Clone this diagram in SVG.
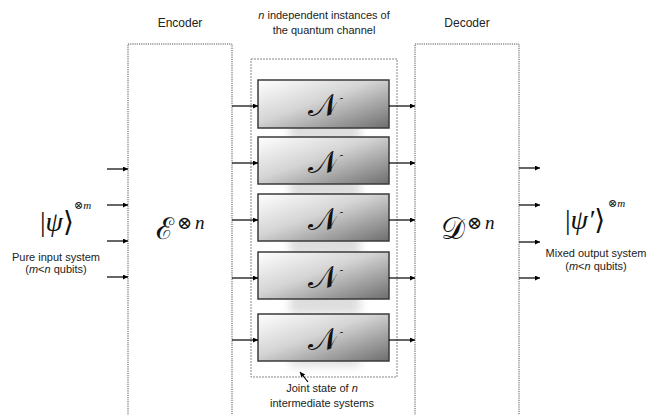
<svg xmlns="http://www.w3.org/2000/svg" width="659" height="415" viewBox="0 0 659 415">
<style>
.lbl{font-family:"Liberation Sans",Arial,sans-serif;font-size:11px;fill:#222;text-anchor:middle}
.hdr{font-family:"Liberation Sans",Arial,sans-serif;font-size:12px;fill:#222;text-anchor:middle}
.math{font-family:"Liberation Serif","DejaVu Serif",serif;fill:#111}
.scr{font-family:"DejaVu Serif","Liberation Serif",serif;fill:#111}
.box{fill:#fff;stroke:#555;stroke-width:1;stroke-dasharray:1.2,1}
.inner{fill:none;stroke:#888;stroke-width:1;stroke-dasharray:2,1}
.ch{stroke:#3a3a3a;stroke-width:1.5}
.ar{stroke:#000;stroke-width:1.2;fill:none;marker-end:url(#ah)}
</style>
<defs>
<marker id="ah" viewBox="0 0 10 10" refX="10" refY="5" markerWidth="5" markerHeight="5" orient="auto" markerUnits="userSpaceOnUse"><path d="M0,0L10,5L0,10z" fill="#000"/></marker>
<linearGradient id="g" x1="0" y1="0" x2="1" y2="1"><stop offset="0" stop-color="#ffffff"/><stop offset="0.45" stop-color="#d4d4d4"/><stop offset="1" stop-color="#6e6e6e"/></linearGradient>
<filter id="sh" x="-20%" y="-40%" width="140%" height="180%"><feGaussianBlur stdDeviation="5"/></filter>
</defs>
<rect width="659" height="415" fill="#fff"/>
<g id="encoder">
<rect class="box" x="128" y="44" width="104" height="380"/>
<text class="hdr" x="180" y="27">Encoder</text>
<text class="scr" x="156" y="239" font-size="30">ℰ</text>
<text class="math" x="177" y="229" font-size="18">⊗</text>
<text class="math" x="195" y="229" font-size="19" font-style="italic">n</text>
</g>
<g id="decoder">
<rect class="box" x="415" y="44" width="104" height="380"/>
<text class="hdr" x="467" y="27">Decoder</text>
<text class="scr" x="441" y="239" font-size="30">𝒟</text>
<text class="math" x="467" y="229" font-size="18">⊗</text>
<text class="math" x="485" y="229" font-size="19" font-style="italic">n</text>
</g>
<g id="channels">
<rect class="inner" x="251" y="59" width="146" height="318"/>
<text class="lbl" x="324" y="19"><tspan font-style="italic">n</tspan> independent instances of</text>
<text class="lbl" x="324" y="34">the quantum channel</text>
<g fill="#bbb" filter="url(#sh)" opacity="0.5">
<rect x="290" y="120" width="70" height="22"/>
<rect x="290" y="177" width="70" height="22"/>
<rect x="290" y="234" width="70" height="22"/>
<rect x="290" y="292" width="70" height="22"/>
<rect x="290" y="356" width="70" height="10"/>
</g>
<g id="n1"><rect class="ch" x="258" y="80" width="131" height="48" fill="url(#g)"/><text class="scr" x="323" y="116" font-size="32" text-anchor="middle">𝒩</text></g>
<g id="n2"><rect class="ch" x="258" y="137" width="131" height="47" fill="url(#g)"/><text class="scr" x="323" y="173" font-size="32" text-anchor="middle">𝒩</text></g>
<g id="n3"><rect class="ch" x="258" y="194" width="131" height="47" fill="url(#g)"/><text class="scr" x="323" y="230" font-size="32" text-anchor="middle">𝒩</text></g>
<g id="n4"><rect class="ch" x="258" y="252" width="131" height="47" fill="url(#g)"/><text class="scr" x="323" y="288" font-size="32" text-anchor="middle">𝒩</text></g>
<g id="n5"><rect class="ch" x="258" y="314" width="131" height="47" fill="url(#g)"/><text class="scr" x="323" y="350" font-size="32" text-anchor="middle">𝒩</text></g>
<text class="lbl" x="322" y="392">Joint state of <tspan font-style="italic">n</tspan></text>
<text class="lbl" x="322" y="407">intermediate systems</text>
</g>
<g id="input">
<text class="math" x="40" y="231" font-size="28"><tspan>|</tspan><tspan font-style="italic">ψ</tspan><tspan>⟩</tspan></text>
<text class="math" x="74" y="209" font-size="11">⊗<tspan font-style="italic">m</tspan></text>
<text class="lbl" x="56" y="261">Pure input system</text>
<text class="lbl" x="56" y="273">(<tspan font-style="italic">m</tspan>&lt;<tspan font-style="italic">n</tspan> qubits)</text>
</g>
<g id="output">
<text class="math" x="565" y="229" font-size="28"><tspan>|</tspan><tspan font-style="italic">ψ′</tspan><tspan>⟩</tspan></text>
<text class="math" x="608" y="207" font-size="11">⊗<tspan font-style="italic">m</tspan></text>
<text class="lbl" x="596" y="257">Mixed output system</text>
<text class="lbl" x="596" y="270">(<tspan font-style="italic">m</tspan>&lt;<tspan font-style="italic">n</tspan> qubits)</text>
</g>
<g id="connectors">
<path class="ar" d="M107,169H128"/>
<path class="ar" d="M107,205H128"/>
<path class="ar" d="M107,241H128"/>
<path class="ar" d="M107,277H128"/>
<path class="ar" d="M232,106H258"/>
<path class="ar" d="M232,163H258"/>
<path class="ar" d="M232,220H258"/>
<path class="ar" d="M232,278H258"/>
<path class="ar" d="M232,340H258"/>
<path class="ar" d="M389,106H415"/>
<path class="ar" d="M389,163H415"/>
<path class="ar" d="M389,220H415"/>
<path class="ar" d="M389,278H415"/>
<path class="ar" d="M389,340H415"/>
<path class="ar" d="M519,168H540"/>
<path class="ar" d="M519,205H540"/>
<path class="ar" d="M519,242H540"/>
<path class="ar" d="M519,278H540"/>
<path class="ar" d="M308,382L300,372"/>
</g>
</svg>
